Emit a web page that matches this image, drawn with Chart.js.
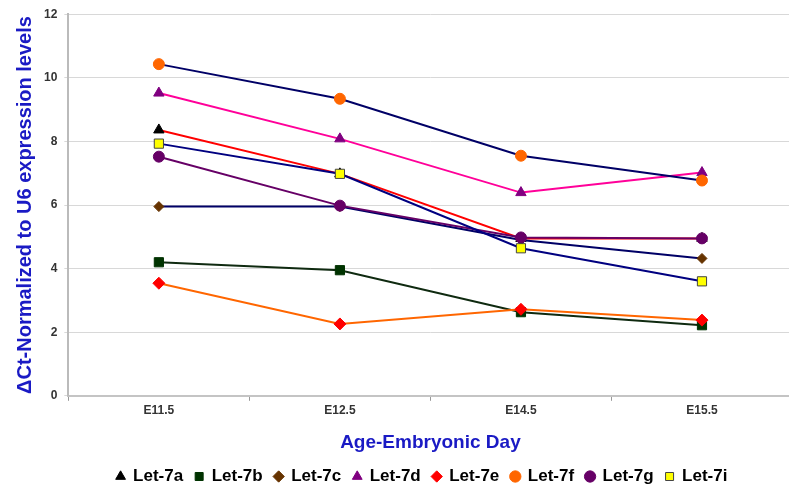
<!DOCTYPE html>
<html>
<head>
<meta charset="utf-8">
<script src="https://cdn.jsdelivr.net/npm/chart.js@4.4.0/dist/chart.umd.min.js"></script>
<style>
  html, body { margin: 0; padding: 0; background: #fff; overflow: hidden; }
  #wrap { width: 800px; height: 495px; }
</style>
</head>
<body>
<div id="wrap"><canvas id="myChart" width="800" height="495"></canvas></div>
<script>
// categories (x axis)
const days = ["E11.5", "E12.5", "E14.5", "E15.5"];

// series values
const let7a = [8.36, 6.98, 4.95, 4.95];
const let7b = [4.2, 3.95, 2.63, 2.22];
const let7c = [5.95, 5.95, 4.9, 4.32];
const let7d = [9.52, 8.08, 6.39, 7.02];
const let7e = [3.54, 2.26, 2.72, 2.38];
const let7f = [10.43, 9.34, 7.55, 6.77];
const let7g = [7.52, 5.98, 4.98, 4.95];
const let7i = [7.93, 6.98, 4.64, 3.6];

const yTicks = [0, 2, 4, 6, 8, 10, 12];

const FONT = "Arial, 'Liberation Sans'";

// later series are drawn on top (like the original), so order counts down
function series(i, label, data, line, fill, border, style, r) {
  return {
    label: label,
    data: data,
    order: 10 - i,
    borderColor: line,
    backgroundColor: fill,
    pointBackgroundColor: fill,
    pointBorderColor: border,
    pointBorderWidth: 1,
    pointStyle: style,
    pointRadius: r,
    borderWidth: 2,
    tension: 0
  };
}

//move the legend a bit so it sits under the plot
const legendShift = {
  id: "legendShift",
  afterLayout(chart) {
    chart.legend.left += 38;
  }
};

const ctx = document.getElementById("myChart").getContext("2d");
new Chart(ctx, {
  type: "line",
  data: {
    labels: days,
    datasets: [
      series(0, "Let-7a", let7a, "#ff0000", "#000000", "#000000", "triangle", 6),
      series(1, "Let-7b", let7b, "#0f2a10", "#003300", "#003300", "rect", 6.5),
      series(2, "Let-7c", let7c, "#000066", "#663300", "#663300", "rectRot", 5),
      series(3, "Let-7d", let7d, "#ff0099", "#800080", "#800080", "triangle", 6),
      series(4, "Let-7e", let7e, "#ff6600", "#ff0000", "#ff0000", "rectRot", 6),
      series(5, "Let-7f", let7f, "#000066", "#ff6600", "#ff6600", "circle", 5.5),
      series(6, "Let-7g", let7g, "#660066", "#660066", "#660066", "circle", 5.5),
      series(7, "Let-7i", let7i, "#000080", "#ffff00", "#444444", "rect", 6.5)
    ]
  },
  options: {
    responsive: false,
    animation: false,
    layout: { padding: { top: 4, right: 2, left: 8, bottom: 0 } },
    plugins: {
      tooltip: { enabled: false },
      legend: {
        position: "bottom",
        labels: {
          usePointStyle: true,
          boxWidth: 8,
          boxHeight: 8,
          padding: 12,
          color: "#000",
          sort: (a, b) => a.datasetIndex - b.datasetIndex,
          font: { family: FONT, size: 17, weight: "bold" }
        }
      }
    },
    scales: {
      x: {
        offset: true,
        grid: { offset: true, drawOnChartArea: false, tickLength: 5, color: "#999" },
        border: { color: "#c4c4c4", width: 2 },
        ticks: {
          color: "#333",
          padding: 3,
          font: { family: FONT, size: 12, weight: "bold" }
        },
        title: {
          display: true,
          text: "Age-Embryonic Day",
          color: "#1a1ac4",
          padding: { top: 10, bottom: 2 },
          font: { family: FONT, size: 19, weight: "bold" }
        }
      },
      y: {
        min: 0,
        max: 12,
        afterBuildTicks(axis) {
          axis.ticks = yTicks.map(v => ({ value: v }));
        },
        grid: { color: "#d8d8d8", tickLength: 4 },
        border: { color: "#bbb", width: 2 },
        ticks: {
          color: "#333",
          padding: 7,
          font: { family: FONT, size: 12, weight: "bold" }
        },
        title: {
          display: true,
          text: "\u0394Ct-Normalized to U6 expression levels",
          color: "#1a1ac4",
          padding: { top: 5, bottom: 0 },
          font: { family: FONT, size: 20, weight: "bold" }
        }
      }
    }
  },
  plugins: [legendShift]
});
</script>
</body>
</html>
